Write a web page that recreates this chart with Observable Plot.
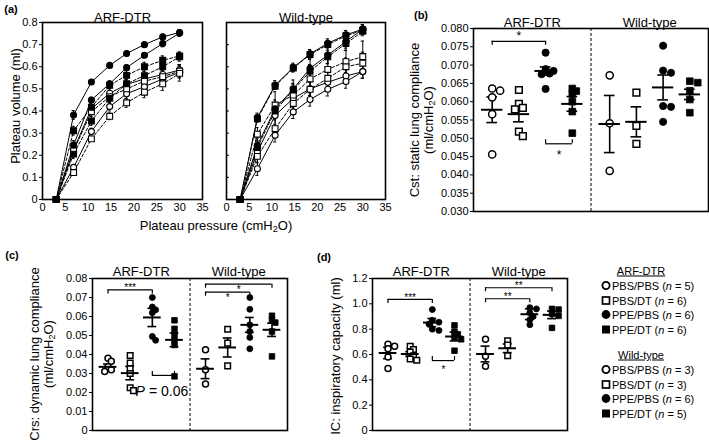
<!DOCTYPE html>
<html><head><meta charset="utf-8">
<script src="https://cdn.jsdelivr.net/npm/d3@7"></script>
<script src="https://cdn.jsdelivr.net/npm/@observablehq/plot@0.6"></script>
<style>
body{margin:0;background:#fff;}
#fig{position:relative;width:709px;height:441px;overflow:hidden;background:#fff;font-family:"Liberation Sans",Arial,Helvetica,sans-serif;color:#000;}
#fig svg{position:absolute;overflow:visible;}
.lbl{position:absolute;white-space:nowrap;line-height:1;}
sub{font-size:0.7em;vertical-align:-0.25em;line-height:0;}
</style></head><body><div id="fig"></div>
<script>
// ---------------- DATA ----------------
const genotypes = ["ARF-DTR", "Wild-type"];
const treatments = ["PBS/PBS", "PBS/DT", "PPE/PBS", "PPE/DT"];
const nARF = [5, 6, 6, 6];
const nWT = [3, 3, 6, 5];

// (a) pressure-volume curves
const pressure = [3, 6.8, 10.7, 14.7, 18.4, 22.3, 26.3, 30];
const pressureTicks = [0, 5, 10, 15, 20, 25, 30, 35];
const volumeTicks = [0, 0.1, 0.2, 0.3, 0.4, 0.5, 0.6, 0.7, 0.8];
// ARF-DTR (deflation / inflation limbs)
const aArf_PPEPBS_def = [0, 0.382, 0.531, 0.606, 0.66, 0.70, 0.735, 0.755];
const aArf_PPEPBS_inf = [0, 0.246, 0.45, 0.523, 0.596, 0.652, 0.705, 0.752];
const aArf_PPEDT_def  = [0, 0.311, 0.417, 0.516, 0.561, 0.60, 0.629, 0.649];
const aArf_PPEDT_inf  = [0, 0.205, 0.355, 0.458, 0.523, 0.56, 0.60, 0.645];
const aArf_PBSPBS_def = [0, 0.225, 0.41, 0.48, 0.52, 0.545, 0.565, 0.585];
const aArf_PBSPBS_inf = [0, 0.145, 0.307, 0.42, 0.478, 0.51, 0.545, 0.575];
const aArf_PBSDT_def  = [0, 0.22, 0.397, 0.465, 0.50, 0.535, 0.555, 0.58];
const aArf_PBSDT_inf  = [0, 0.122, 0.274, 0.376, 0.437, 0.485, 0.523, 0.57];
const aArf_PPEPBS_defE = [0, 0.02, 0.008, 0.008, 0.01, 0.01, 0.012, 0.012];
const aArf_PPEPBS_infE = [0, 0.02, 0.012, 0.012, 0.012, 0.012, 0.015, 0.015];
const aArf_PPEDT_defE  = [0, 0.02, 0.02, 0.015, 0.02, 0.02, 0.02, 0.018];
const aArf_PPEDT_infE  = [0, 0.02, 0.02, 0.02, 0.02, 0.02, 0.02, 0.02];
const aArf_PBSPBS_defE = [0, 0.015, 0.02, 0.02, 0.02, 0.02, 0.02, 0.025];
const aArf_PBSPBS_infE = [0, 0.01, 0.015, 0.02, 0.02, 0.02, 0.02, 0.025];
const aArf_PBSDT_defE  = [0, 0.015, 0.02, 0.02, 0.02, 0.025, 0.03, 0.03];
const aArf_PBSDT_infE  = [0, 0.01, 0.01, 0.015, 0.02, 0.025, 0.03, 0.035];
// Wild-type
const aWt_PPEPBS_def = [0, 0.37, 0.517, 0.596, 0.658, 0.706, 0.744, 0.77];
const aWt_PPEPBS_inf = [0, 0.245, 0.41, 0.50, 0.593, 0.653, 0.714, 0.77];
const aWt_PPEDT_def  = [0, 0.365, 0.512, 0.594, 0.655, 0.70, 0.74, 0.765];
const aWt_PPEDT_inf  = [0, 0.235, 0.40, 0.495, 0.58, 0.645, 0.705, 0.76];
const aWt_PBSPBS_def = [0, 0.215, 0.38, 0.457, 0.50, 0.53, 0.558, 0.578];
const aWt_PBSPBS_inf = [0, 0.139, 0.29, 0.396, 0.452, 0.498, 0.533, 0.578];
const aWt_PBSDT_def  = [0, 0.295, 0.427, 0.472, 0.545, 0.588, 0.623, 0.646];
const aWt_PBSDT_inf  = [0, 0.195, 0.32, 0.434, 0.498, 0.548, 0.60, 0.616];
const aWt_PPEPBS_defE = [0, 0.02, 0.02, 0.02, 0.02, 0.02, 0.02, 0.02];
const aWt_PPEPBS_infE = [0, 0.03, 0.04, 0.04, 0.04, 0.04, 0.03, 0.02];
const aWt_PPEDT_defE  = [0, 0.015, 0.015, 0.015, 0.015, 0.015, 0.015, 0.015];
const aWt_PPEDT_infE  = [0, 0.03, 0.03, 0.03, 0.03, 0.03, 0.03, 0.02];
const aWt_PBSPBS_defE = [0, 0.03, 0.04, 0.04, 0.03, 0.03, 0.03, 0.03];
const aWt_PBSPBS_infE = [0, 0.03, 0.03, 0.03, 0.03, 0.03, 0.03, 0.03];
const aWt_PBSDT_defE  = [0, 0.03, 0.06, 0.05, 0.05, 0.05, 0.05, 0.07];
const aWt_PBSDT_infE  = [0, 0.03, 0.04, 0.04, 0.04, 0.04, 0.04, 0.05];

// (b) Cst: static lung compliance (ml/cmH2O) — individual animals, group means, SEM
const bArf_PBSPBS = [0.0636, 0.063, 0.0612, 0.0566, 0.0456];
const bArf_PBSDT  = [0.0632, 0.0594, 0.0583, 0.0579, 0.0518, 0.0506];
const bArf_PPEPBS = [0.0734, 0.0689, 0.0684, 0.0677, 0.0675, 0.0635];
const bArf_PPEDT  = [0.0636, 0.0629, 0.0621, 0.06, 0.0573, 0.0514];
const bWt_PBSPBS  = [0.0672, 0.0541, 0.0411];
const bWt_PBSDT   = [0.0625, 0.0534, 0.0485];
const bWt_PPEPBS  = [0.0753, 0.0685, 0.0679, 0.0588, 0.0586, 0.0545];
const bWt_PPEDT   = [0.0656, 0.0652, 0.063, 0.0606, 0.057];
const bMeans = [0.0578, 0.0566, 0.0684, 0.0594, 0.0539, 0.0545, 0.0639, 0.0620];
const bSems  = [0.0035, 0.0021, 0.0011, 0.0020, 0.0078, 0.0041, 0.0034, 0.0014];
const bTicks = [0.030, 0.035, 0.040, 0.045, 0.050, 0.055, 0.060, 0.065, 0.070, 0.075, 0.080];
// brackets: [from group, to group, level, tip direction, label]
const bBrackets = [[0, 2, 0.0765, -1, "*"], [2, 3, 0.0485, 1, "*"]];

// (c) Crs: dynamic lung compliance
const cArf_PBSPBS = [0.038, 0.0365, 0.0335, 0.032, 0.031];
const cArf_PBSDT  = [0.0395, 0.0355, 0.0325, 0.030, 0.0225, 0.021];
const cArf_PPEPBS = [0.07, 0.065, 0.0635, 0.062, 0.0495, 0.0475];
const cArf_PPEDT  = [0.058, 0.0535, 0.0505, 0.0475, 0.045, 0.0285];
const cWt_PBSPBS  = [0.0425, 0.032, 0.0245];
const cWt_PBSDT   = [0.0533, 0.046, 0.034];
const cWt_PPEPBS  = [0.07, 0.0638, 0.0556, 0.0521, 0.049, 0.043];
const cWt_PPEDT   = [0.0604, 0.0582, 0.0568, 0.0521, 0.039];
const cMeans = [0.0335, 0.0302, 0.0595, 0.0477, 0.0325, 0.0437, 0.0556, 0.053];
const cSems  = [0.0015, 0.0035, 0.0048, 0.0036, 0.0052, 0.005, 0.0039, 0.0035];
const cTicks = [0, 0.01, 0.02, 0.03, 0.04, 0.05, 0.06, 0.07, 0.08];
const cBrackets = [[0, 2, 0.074, -1, "***"], [2, 3, 0.029, 1, ""], [4, 7, 0.077, -1, "*"], [4, 6, 0.0728, -1, "*"]];
const cPText = ["P", "= 0.06"];

// (d) IC: inspiratory capacity (ml)
const dArf_PBSPBS = [0.68, 0.665, 0.645, 0.58, 0.49];
const dArf_PBSDT  = [0.665, 0.64, 0.62, 0.59, 0.565, 0.555];
const dArf_PPEPBS = [0.955, 0.87, 0.855, 0.84, 0.80, 0.79];
const dArf_PPEDT  = [0.83, 0.78, 0.76, 0.735, 0.72, 0.63];
const dWt_PBSPBS  = [0.72, 0.586, 0.507];
const dWt_PBSDT   = [0.708, 0.675, 0.59];
const dWt_PPEPBS  = [0.97, 0.96, 0.93, 0.90, 0.875, 0.835];
const dWt_PPEDT   = [0.96, 0.955, 0.92, 0.905, 0.81];
const dMeans = [0.612, 0.604, 0.852, 0.742, 0.604, 0.649, 0.918, 0.913];
const dSems  = [0.045, 0.018, 0.032, 0.035, 0.062, 0.034, 0.042, 0.030];
const dTicks = [0, 0.2, 0.4, 0.6, 0.8, 1.0, 1.2];
const dBrackets = [[0, 2, 1.035, -1, "***"], [2, 3, 0.552, 1, "*"], [4, 7, 1.127, -1, "**"], [4, 6, 1.04, -1, "**"]];

// ---------------- DRAWING ----------------
const FONT = '"Liberation Sans", Arial, Helvetica, sans-serif';
const fig = document.getElementById("fig");
const baseStyle = {fontFamily: FONT, fontSize: "11px", color: "#000", background: "transparent", overflow: "visible"};

function place(svg, left, top) {
  svg.style.position = "absolute";
  svg.style.left = left + "px";
  svg.style.top = top + "px";
  fig.appendChild(svg);
}
function label(html, x, y, opt = {}) {
  const d = document.createElement("div");
  d.className = "lbl";
  d.innerHTML = html;
  d.style.left = x + "px";
  d.style.top = y + "px";
  d.style.fontSize = (opt.size || 13) + "px";
  if (opt.bold) d.style.fontWeight = "bold";
  if (opt.underline) d.style.textDecoration = "underline";
  const anchor = opt.anchor || "middle";
  const tx = anchor === "start" ? "0" : "-50%";
  d.style.transform = `translate(${tx},-50%)` + (opt.rotate ? " rotate(-90deg)" : "");
  fig.appendChild(d);
  return d;
}

const isSquare = g => g.endsWith("DT");
const isFilled = g => g.startsWith("PPE");

// ----- panel (a)
const aSeries = [
  {geno: "ARF-DTR", group: "PPE/PBS", v: aArf_PPEPBS_def, e: aArf_PPEPBS_defE},
  {geno: "ARF-DTR", group: "PPE/PBS", v: aArf_PPEPBS_inf, e: aArf_PPEPBS_infE},
  {geno: "ARF-DTR", group: "PPE/DT", v: aArf_PPEDT_def, e: aArf_PPEDT_defE},
  {geno: "ARF-DTR", group: "PPE/DT", v: aArf_PPEDT_inf, e: aArf_PPEDT_infE},
  {geno: "ARF-DTR", group: "PBS/PBS", v: aArf_PBSPBS_def, e: aArf_PBSPBS_defE},
  {geno: "ARF-DTR", group: "PBS/PBS", v: aArf_PBSPBS_inf, e: aArf_PBSPBS_infE},
  {geno: "ARF-DTR", group: "PBS/DT", v: aArf_PBSDT_def, e: aArf_PBSDT_defE},
  {geno: "ARF-DTR", group: "PBS/DT", v: aArf_PBSDT_inf, e: aArf_PBSDT_infE},
  {geno: "Wild-type", group: "PPE/PBS", v: aWt_PPEPBS_def, e: aWt_PPEPBS_defE},
  {geno: "Wild-type", group: "PPE/PBS", v: aWt_PPEPBS_inf, e: aWt_PPEPBS_infE},
  {geno: "Wild-type", group: "PPE/DT", v: aWt_PPEDT_def, e: aWt_PPEDT_defE},
  {geno: "Wild-type", group: "PPE/DT", v: aWt_PPEDT_inf, e: aWt_PPEDT_infE},
  {geno: "Wild-type", group: "PBS/PBS", v: aWt_PBSPBS_def, e: aWt_PBSPBS_defE},
  {geno: "Wild-type", group: "PBS/PBS", v: aWt_PBSPBS_inf, e: aWt_PBSPBS_infE},
  {geno: "Wild-type", group: "PBS/DT", v: aWt_PBSDT_def, e: aWt_PBSDT_defE},
  {geno: "Wild-type", group: "PBS/DT", v: aWt_PBSDT_inf, e: aWt_PBSDT_infE}
];

function panelA(geno, left, width, mL, mR, showLabels) {
  const rows = aSeries.map((s, k) => ({...s, k})).filter(s => s.geno === geno)
    .flatMap(s => pressure.map((p, i) => ({id: s.k, group: s.group, p, v: s.v[i], e: s.e[i]})));
  const eRows = rows.filter(d => d.e > 0);
  const dot = (sq, filled) => Plot.dot(rows.filter(d => isSquare(d.group) === sq && isFilled(d.group) === filled),
    {x: "p", y: "v", symbol: sq ? "square" : "circle", r: sq ? 3.3 : 3, fill: filled ? "#000" : "#fff", stroke: "#000", strokeWidth: 1.1});
  const svg = Plot.plot({
    width, height: 216, marginLeft: mL, marginRight: mR, marginTop: 22, marginBottom: 17,
    style: baseStyle,
    x: {domain: [0, 35], label: null},
    y: {domain: [0, 0.8], label: null},
    marks: [
      Plot.axisX({ticks: pressureTicks, tickSize: 0, tickPadding: 4, label: null, fontSize: 11}),
      Plot.axisY({ticks: volumeTicks, tickSize: showLabels ? 3 : -3, tickPadding: 2, label: null, fontSize: 11,
        tickFormat: showLabels ? (d => String(d)) : (() => "")}),
      Plot.line(rows.filter(d => !isSquare(d.group)), {x: "p", y: "v", z: "id", stroke: "#000", strokeWidth: 1}),
      Plot.line(rows.filter(d => isSquare(d.group)), {x: "p", y: "v", z: "id", stroke: "#000", strokeWidth: 1, strokeDasharray: "3,2"}),
      Plot.ruleX(eRows, {x: "p", y1: d => d.v - d.e, y2: d => d.v + d.e, stroke: "#000", strokeWidth: 1}),
      Plot.ruleY(eRows, {y: d => d.v + d.e, x1: d => d.p - 0.35, x2: d => d.p + 0.35, stroke: "#000", strokeWidth: 1}),
      Plot.ruleY(eRows, {y: d => d.v - d.e, x1: d => d.p - 0.35, x2: d => d.p + 0.35, stroke: "#000", strokeWidth: 1}),
      dot(false, false), dot(true, false), dot(false, true), dot(true, true),
      Plot.frame({stroke: "#000", strokeWidth: 1.6}),
      Plot.text([geno], {frameAnchor: "top", dy: -10, fontSize: 13})
    ]
  });
  place(svg, left, 0);
}
panelA("ARF-DTR", 0, 212, 42, 10, true);
panelA("Wild-type", 212, 180, 14, 7, false);

// ----- scatter panels (b), (c), (d)
function scatterPanel(cfg) {
  const {left, top, width, height, mL, mR, mT, mB, domain, ticks, fmt, vals, means, sems, brackets, r, starSize, titleDy, extra} = cfg;
  const fw = width - mL - mR, fh = height - mT - mB;
  const xMax = 8.8;
  const pxX = fw / xMax;
  const pxY = fh / (domain[1] - domain[0]);
  const pos = gi => Math.floor(gi / 4) * 4.4 + (gi % 4) + 0.7;
  // simple dodge so that overlapping animals spread sideways
  const pts = [];
  vals.forEach((arr, gi) => {
    const placed = [];
    [...arr].sort((a, b) => b - a).forEach(v => {
      const yp = v * pxY;
      let off = 0;
      for (const k of [0, 1, -1, 2, -2, 3, -3]) {
        const o = k * r * 1.1;
        if (placed.every(p => Math.hypot(p.o - o, p.y - yp) >= 1.3 * r)) { off = o; break; }
      }
      placed.push({o: off, y: yp});
      pts.push({gi, group: treatments[gi % 4], v, x: pos(gi) + off / pxX});
    });
  });
  const dot = (sq, filled) => Plot.dot(pts.filter(d => isSquare(d.group) === sq && isFilled(d.group) === filled),
    {x: "x", y: "v", symbol: sq ? "square" : "circle", r: sq ? r * 1.05 : r, fill: filled ? "#000" : "#fff", stroke: "#000", strokeWidth: filled ? 0.8 : 1.5});
  const tipLen = 4 / pxY;
  const tips = brackets.flatMap(b => [{x: pos(b[0]), b}, {x: pos(b[1]), b}]);
  const mid = b => (pos(b[0]) + pos(b[1])) / 2;
  const idx = means.map((m, i) => i);
  const marks = [
    Plot.axisY({ticks, tickSize: 3, tickPadding: 2, tickFormat: fmt, label: null, fontSize: 11}),
    Plot.ruleX([4.4], {stroke: "#000", strokeWidth: 1, strokeDasharray: "3,2"}),
    Plot.ruleX(idx, {x: i => pos(i), y1: i => means[i] - sems[i], y2: i => means[i] + sems[i], stroke: "#000", strokeWidth: 1.6}),
    Plot.ruleY(idx, {y: i => means[i] + sems[i], x1: i => pos(i) - 0.2, x2: i => pos(i) + 0.2, stroke: "#000", strokeWidth: 1.6}),
    Plot.ruleY(idx, {y: i => means[i] - sems[i], x1: i => pos(i) - 0.2, x2: i => pos(i) + 0.2, stroke: "#000", strokeWidth: 1.6}),
    dot(false, false), dot(true, false), dot(false, true), dot(true, true),
    Plot.ruleY(idx, {y: i => means[i], x1: i => pos(i) - 0.4, x2: i => pos(i) + 0.4, stroke: "#000", strokeWidth: 2}),
    Plot.ruleY(brackets, {y: b => b[2], x1: b => pos(b[0]), x2: b => pos(b[1]), stroke: "#000", strokeWidth: 1.2}),
    Plot.ruleX(tips, {x: "x", y1: d => d.b[2], y2: d => d.b[2] + d.b[3] * tipLen, stroke: "#000", strokeWidth: 1.2}),
    Plot.text(brackets.filter(b => b[3] < 0), {x: mid, y: b => b[2], text: b => b[4], dy: cfg.starDyAbove, fontSize: starSize}),
    Plot.text(brackets.filter(b => b[3] > 0), {x: mid, y: b => b[2], text: b => b[4], dy: cfg.starDyBelow, fontSize: starSize}),
    Plot.frame({stroke: "#000", strokeWidth: 1.6}),
    Plot.text(genotypes, {x: (d, i) => i * 4.4 + 2.2, frameAnchor: "top", dy: titleDy, fontSize: 13}),
    ...(extra ? extra(pos) : [])
  ];
  const svg = Plot.plot({
    width, height, marginLeft: mL, marginRight: mR, marginTop: mT, marginBottom: mB,
    style: baseStyle,
    x: {domain: [0, xMax], axis: null},
    y: {domain, label: null},
    marks
  });
  place(svg, left, top);
}

// (b)
scatterPanel({
  left: 433, top: 0, width: 276, height: 216, mL: 40, mR: 1, mT: 28, mB: 5,
  domain: [0.03, 0.08], ticks: bTicks, fmt: d3.format(".3f"),
  vals: [bArf_PBSPBS, bArf_PBSDT, bArf_PPEPBS, bArf_PPEDT, bWt_PBSPBS, bWt_PBSDT, bWt_PPEPBS, bWt_PPEDT],
  means: bMeans, sems: bSems, brackets: bBrackets, r: 3.6, starSize: 12, titleDy: -11,
  starDyAbove: -5, starDyBelow: 11
});
// (c)
scatterPanel({
  left: 55, top: 250, width: 236, height: 186, mL: 37, mR: 4, mT: 28, mB: 6,
  domain: [0, 0.08], ticks: cTicks, fmt: d => d === 0 ? "0" : d.toFixed(2),
  vals: [cArf_PBSPBS, cArf_PBSDT, cArf_PPEPBS, cArf_PPEDT, cWt_PBSPBS, cWt_PBSDT, cWt_PPEPBS, cWt_PPEDT],
  means: cMeans, sems: cSems, brackets: cBrackets.slice(0, 2), r: 3, starSize: 10, titleDy: -12,
  starDyAbove: -2, starDyBelow: 9,
  extra: pos => [
    Plot.ruleY(cBrackets.slice(2), {y: b => b[2], x1: b => pos(b[0]), x2: b => pos(b[1]), stroke: "#000", strokeWidth: 1.2}),
    Plot.ruleX(cBrackets.slice(2).flatMap(b => [{x: pos(b[0]), b}, {x: pos(b[1]), b}]), {x: "x", y1: d => d.b[2], y2: d => d.b[2] - 0.0021, stroke: "#000", strokeWidth: 1.2}),
    Plot.text(cBrackets.slice(2), {x: b => (pos(b[0]) + pos(b[1])) / 2, y: b => b[2], text: b => b[4], dy: 6, fontSize: 10}),
    Plot.text([cPText[0]], {x: (pos(2) + pos(3)) / 2, y: cBrackets[1][2], text: d => d, dx: -28, dy: 16, textAnchor: "start", fontSize: 14, fontStyle: "italic"}),
    Plot.text([cPText[1]], {x: (pos(2) + pos(3)) / 2, y: cBrackets[1][2], text: d => d, dx: -14.5, dy: 16, textAnchor: "start", fontSize: 14})
  ]
});
// (d)
scatterPanel({
  left: 345, top: 250, width: 226, height: 186, mL: 27, mR: 4, mT: 28, mB: 6,
  domain: [0, 1.2], ticks: dTicks, fmt: d => d === 0 ? "0" : d.toFixed(1),
  vals: [dArf_PBSPBS, dArf_PBSDT, dArf_PPEPBS, dArf_PPEDT, dWt_PBSPBS, dWt_PBSDT, dWt_PPEPBS, dWt_PPEDT],
  means: dMeans, sems: dSems, brackets: dBrackets, r: 3, starSize: 10, titleDy: -12,
  starDyAbove: -2, starDyBelow: 9
});

// ----- text labels
label("(a)", 11, 9, {size: 11, bold: true});
label("(b)", 421, 15, {size: 11, bold: true});
label("(c)", 12, 255, {size: 11, bold: true});
label("(d)", 324, 257, {size: 11, bold: true});
label("Plateau volume (ml)", 15, 106, {rotate: true});
label("Plateau pressure (cmH<sub>2</sub>O)", 216, 225);
label("Cst: static lung compliance", 414, 120, {rotate: true});
label("(ml/cmH<sub>2</sub>O)", 428, 120, {rotate: true});
label("Crs: dynamic lung compliance", 34, 354, {rotate: true});
label("(ml/cmH<sub>2</sub>O)", 48, 354, {rotate: true});
label("IC: inspiratory capacity (ml)", 335, 356, {rotate: true});

// ----- legend
function legendIcon(g) {
  const sq = isSquare(g), f = isFilled(g);
  const s = sq
    ? `<rect x="${f ? 1 : 1.5}" y="${f ? 1 : 1.5}" width="${f ? 8 : 7}" height="${f ? 8 : 7}" fill="${f ? "#000" : "#fff"}" stroke="#000" stroke-width="${f ? 0 : 1.7}"/>`
    : `<circle cx="5" cy="5" r="${f ? 4.4 : 3.6}" fill="${f ? "#000" : "#fff"}" stroke="#000" stroke-width="${f ? 0 : 1.8}"/>`;
  return `<svg width="10" height="10" style="position:static;vertical-align:-1px;margin-right:1px">${s}</svg>`;
}
function legendBlock(title, ns, y0) {
  label(title, 641, y0, {size: 11, underline: true});
  treatments.forEach((g, i) => {
    label(`${legendIcon(g)}${g} (<i>n</i> = ${ns[i]})`, 601, y0 + 15 + i * 14.5, {size: 11, anchor: "start"});
  });
}
legendBlock(genotypes[0], nARF, 271);
legendBlock(genotypes[1], nWT, 355);
</script></body></html>
